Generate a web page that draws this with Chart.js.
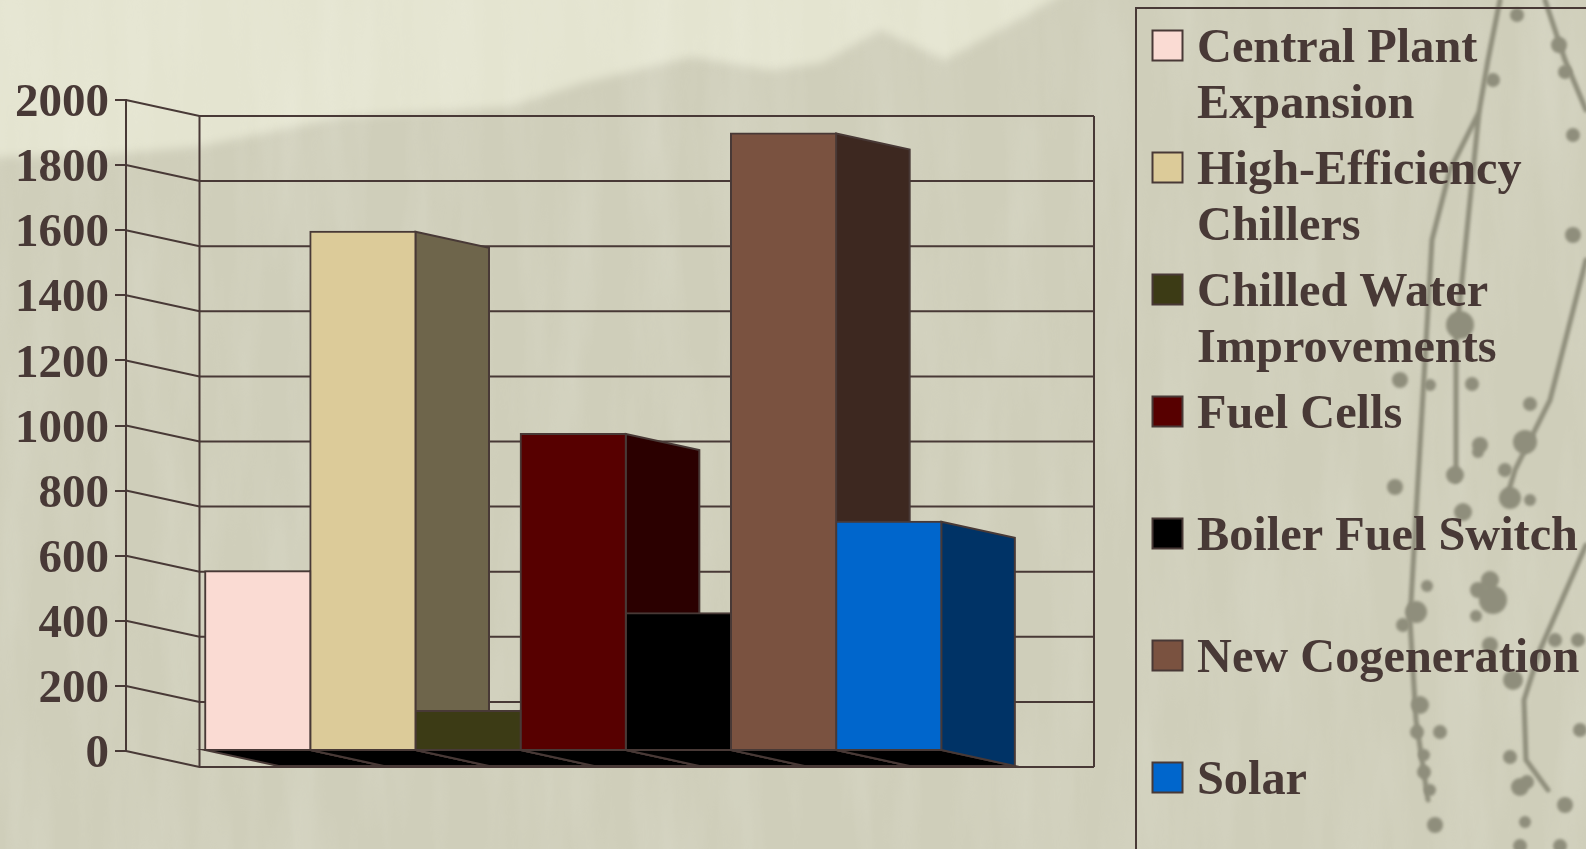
<!DOCTYPE html>
<html><head><meta charset="utf-8">
<script src="https://cdn.jsdelivr.net/npm/chart.js@4"></script>
<style>
html,body{margin:0;padding:0;width:1586px;height:849px;overflow:hidden;background:#cfceba}
#bg{position:absolute;left:0;top:0}
#wrap{position:absolute;left:0;top:0;width:1586px;height:849px}
</style></head><body>
<svg id="bg" width="1586" height="849" viewBox="0 0 1586 849" xmlns="http://www.w3.org/2000/svg">
<defs>
<filter id="soft"><feGaussianBlur stdDeviation="1.6"/></filter>
<filter id="soft2"><feGaussianBlur stdDeviation="5"/></filter>
<filter id="grain" x="0" y="0" width="100%" height="100%">
<feTurbulence type="fractalNoise" baseFrequency="0.025 0.004" numOctaves="4" seed="7"/>
<feColorMatrix values="0 0 0 0 1  0 0 0 0 1  0 0 0 0 0.95  1.3 0 0 0 -0.5"/>
</filter>
</defs>
<rect width="1586" height="849" fill="#cfceba"/>
<path filter="url(#soft2)" d="M-10,-10 L-10,157 L100,155 L196,147 L342,117 L509,107 L582,83 L691,57 L771,70 L822,63 L880,30 L945,60 L1018,20 L1069,-10 Z" fill="#e4e4d0"/>
<rect width="1586" height="849" filter="url(#grain)" opacity="0.2"/>
<g filter="url(#soft)" fill="none" stroke="#8f8e7c" stroke-width="5" stroke-linecap="round">
<path d="M1500,0 L1488,60 L1479,112 L1468,220 L1456,340 L1456,480"/>
<path d="M1479,112 L1450,170 L1432,240 L1418,480 L1410,620 L1416,720 L1428,800"/>
<path d="M1586,260 L1550,400 L1515,470 L1506,500 M1586,545 L1540,650 L1524,700 L1526,760 L1548,790"/>
<path d="M1545,0 L1565,60 L1586,110"/>
</g>
<g filter="url(#soft)" fill="#8f8e7c">
<circle cx="1517" cy="15" r="7"/><circle cx="1559" cy="45" r="8"/><circle cx="1565" cy="72" r="7"/><circle cx="1573" cy="135" r="7"/><circle cx="1493" cy="80" r="7"/>
<circle cx="1573" cy="235" r="8"/><circle cx="1400" cy="380" r="8"/><circle cx="1430" cy="385" r="6"/><circle cx="1460" cy="325" r="14"/><circle cx="1472" cy="384" r="7"/>
<circle cx="1530" cy="404" r="7"/><circle cx="1525" cy="442" r="12"/><circle cx="1480" cy="445" r="8"/><circle cx="1455" cy="475" r="9"/><circle cx="1478" cy="452" r="6"/>
<circle cx="1395" cy="487" r="8"/><circle cx="1510" cy="498" r="11"/><circle cx="1505" cy="470" r="7"/><circle cx="1530" cy="500" r="6"/><circle cx="1463" cy="512" r="9"/>
<circle cx="1490" cy="580" r="9"/><circle cx="1427" cy="586" r="6"/><circle cx="1493" cy="600" r="14"/><circle cx="1478" cy="590" r="8"/><circle cx="1476" cy="616" r="6"/><circle cx="1416" cy="612" r="11"/>
<circle cx="1403" cy="625" r="7"/><circle cx="1490" cy="645" r="8"/><circle cx="1513" cy="680" r="10"/><circle cx="1420" cy="705" r="9"/><circle cx="1417" cy="732" r="7"/><circle cx="1440" cy="732" r="7"/>
<circle cx="1424" cy="755" r="6"/><circle cx="1424" cy="772" r="7"/><circle cx="1430" cy="790" r="6"/><circle cx="1510" cy="757" r="7"/><circle cx="1527" cy="782" r="7"/><circle cx="1520" cy="787" r="9"/>
<circle cx="1565" cy="805" r="8"/><circle cx="1525" cy="822" r="6"/><circle cx="1435" cy="825" r="8"/><circle cx="1520" cy="846" r="7"/><circle cx="1560" cy="846" r="7"/><circle cx="1580" cy="730" r="7"/>
<circle cx="1578" cy="640" r="7"/><circle cx="1555" cy="640" r="7"/>
</g>
</svg>
<div id="wrap"><canvas id="c" width="1586" height="849"></canvas></div>
<script>
const categories = [''];
const seriesNames = ['Central Plant Expansion','High-Efficiency Chillers','Chilled Water Improvements','Fuel Cells','Boiler Fuel Switch','New Cogeneration','Solar'];
const seriesValues = [552, 1595, 123, 974, 423, 1897, 704];
const frontColors = ['#FADBD3','#DCCB99','#3C3B15','#570000','#000000','#7A5240','#0066CC'];
const sideColors = ['#7D6E6A','#6E654B','#1E1E0B','#2B0000','#000000','#3D2820','#003366'];
const legendLines = [['Central Plant','Expansion'],['High-Efficiency','Chillers'],['Chilled Water','Improvements'],['Fuel Cells'],['Boiler Fuel Switch'],['New Cogeneration'],['Solar']];
const yMin = 0, yMax = 2000, yStep = 200;

const INK = '#483936';
const FONT = 'bold 48.3px "Liberation Serif"';
const LW = 2;
const DX = 73.5, DY = 16;

const depthPlugin = {
  id: 'depth',
  beforeDraw(chart) {
    chart.scales.y.getLabelItems(chart.chartArea).forEach(it => {
      if (!it.nudged) { it.textOffset += 4; it.nudged = true; }
    });
  },
  beforeDatasetsDraw(chart) {
    const ctx = chart.ctx, y = chart.scales.y, a = chart.chartArea;
    ctx.save();
    ctx.strokeStyle = INK; ctx.lineWidth = LW; ctx.lineJoin = 'miter';
    y.ticks.forEach(t => {
      const p = y.getPixelForValue(t.value);
      ctx.beginPath();
      ctx.moveTo(a.left, p);
      ctx.lineTo(a.left + DX, p + DY);
      ctx.lineTo(a.right + DX, p + DY);
      ctx.stroke();
    });
    ctx.beginPath();
    ctx.moveTo(a.left + DX, y.getPixelForValue(yMax) + DY);
    ctx.lineTo(a.left + DX, y.getPixelForValue(yMin) + DY);
    ctx.moveTo(a.right + DX, y.getPixelForValue(yMax) + DY);
    ctx.lineTo(a.right + DX, y.getPixelForValue(yMin) + DY);
    ctx.stroke();
    chart.data.datasets.forEach((ds, i) => {
      const b = chart.getDatasetMeta(i).data[0].getProps(['x','y','base','width'], true);
      const x0 = b.x - b.width / 2, x1 = b.x + b.width / 2;
      ctx.beginPath();
      ctx.moveTo(x0, b.base); ctx.lineTo(x1, b.base);
      ctx.lineTo(x1 + DX, b.base + DY); ctx.lineTo(x0 + DX, b.base + DY);
      ctx.closePath();
      ctx.fillStyle = '#000'; ctx.fill(); ctx.stroke();
      ctx.beginPath();
      ctx.moveTo(x1, b.y); ctx.lineTo(x1 + DX, b.y + DY);
      ctx.lineTo(x1 + DX, b.base + DY); ctx.lineTo(x1, b.base);
      ctx.closePath();
      ctx.fillStyle = sideColors[i]; ctx.fill(); ctx.stroke();
    });
    ctx.restore();
  },
  afterDraw(chart) {
    const ctx = chart.ctx;
    ctx.save();
    ctx.strokeStyle = INK; ctx.lineWidth = LW;
    ctx.beginPath();
    ctx.moveTo(1136, 860); ctx.lineTo(1136, 8); ctx.lineTo(1600, 8);
    ctx.stroke();
    ctx.font = FONT; ctx.textBaseline = 'alphabetic'; ctx.textAlign = 'left';
    chart.data.datasets.forEach((ds, i) => {
      const top = 30 + i * 122;
      ctx.fillStyle = ds.backgroundColor;
      ctx.fillRect(1152.5, top + .5, 30, 30);
      ctx.lineWidth = 2; ctx.strokeRect(1152.5, top + .5, 30, 30);
      ctx.fillStyle = INK;
      legendLines[i].forEach((s, k) => ctx.fillText(s, 1197, top + 31.5 + k * 56));
    });
    ctx.restore();
  }
};

new Chart(document.getElementById('c'), {
  type: 'bar',
  data: {
    labels: categories,
    datasets: seriesNames.map((n, i) => ({
      label: n, data: [seriesValues[i]], backgroundColor: frontColors[i],
      borderColor: INK, borderWidth: LW, borderSkipped: false, inflateAmount: 1,
      categoryPercentage: 0.823, barPercentage: 1
    }))
  },
  options: {
    responsive: false, animation: false,
    layout: { padding: { left: 0, top: 100, right: 565.5, bottom: 98 } },
    plugins: { legend: { display: false }, title: { display: false }, tooltip: { enabled: false } },
    scales: {
      x: { display: false },
      y: {
        min: yMin, max: yMax,
        afterFit: s => { s.width = 126; },
        ticks: { stepSize: yStep, color: INK, padding: 6, autoSkip: false,
                 callback: v => String(v),
                 font: { family: '"Liberation Serif"', size: 47, weight: 'bold' } },
        grid: { drawOnChartArea: false, drawTicks: true, tickLength: 11, color: INK, lineWidth: LW },
        border: { display: true, color: INK, width: LW }
      }
    }
  },
  plugins: [depthPlugin]
});
</script>
</body></html>
